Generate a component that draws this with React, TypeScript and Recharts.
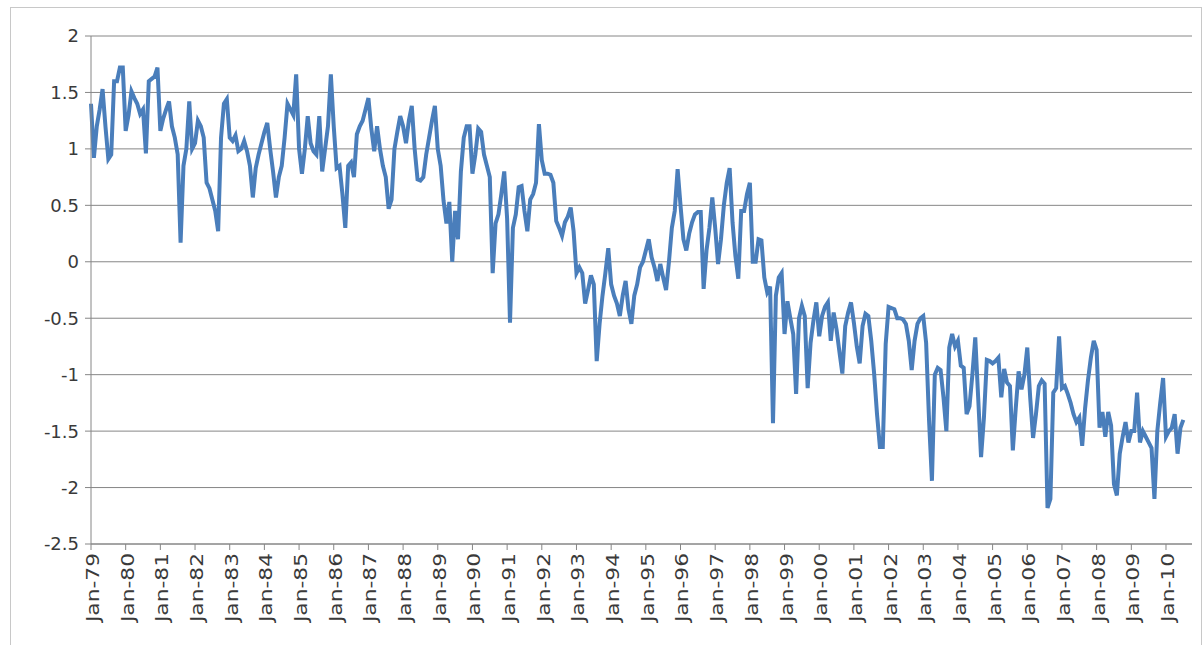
import React from 'react';
import { LineChart, Line, XAxis, YAxis, CartesianGrid } from 'recharts';

// monthly values, Jan-79 .. Jul-10 (one row per year)
const values: number[] = [
  1.4, 0.92, 1.2, 1.35, 1.53, 1.2, 0.91, 0.95, 1.6, 1.6, 1.72, 1.72,
  1.16, 1.3, 1.51, 1.45, 1.4, 1.31, 1.35, 0.96, 1.6, 1.62, 1.64, 1.72,
  1.16, 1.27, 1.35, 1.42, 1.2, 1.1, 0.95, 0.17, 0.85, 1.0, 1.42, 1.0,
  1.05, 1.25, 1.2, 1.1, 0.7, 0.65, 0.55, 0.45, 0.27, 1.1, 1.4, 1.44,
  1.1, 1.07, 1.12, 0.98, 1.0, 1.07, 0.98, 0.85, 0.57, 0.83, 0.95, 1.05,
  1.15, 1.23, 1.0, 0.8, 0.57, 0.75, 0.85, 1.1, 1.4, 1.35, 1.3, 1.66,
  1.0, 0.78, 1.0, 1.29, 1.05, 0.98, 0.95, 1.29, 0.8, 1.0, 1.2, 1.66,
  1.2, 0.83, 0.85, 0.6, 0.3, 0.85, 0.88, 0.75, 1.13, 1.2, 1.25, 1.35,
  1.45, 1.18, 0.98, 1.2, 1.0, 0.85, 0.75, 0.47, 0.55, 1.0, 1.15, 1.29,
  1.2, 1.05, 1.25, 1.38, 1.0, 0.73, 0.72, 0.75, 0.95, 1.1, 1.25, 1.38,
  1.0, 0.85, 0.54, 0.34, 0.53, 0.0, 0.45, 0.2, 0.8, 1.1, 1.2, 1.2,
  0.78, 0.95, 1.18, 1.15, 0.95, 0.85, 0.75, -0.1, 0.34, 0.42, 0.6, 0.8,
  0.38, -0.54, 0.3, 0.42, 0.66, 0.67, 0.45, 0.27, 0.55, 0.6, 0.7, 1.22,
  0.9, 0.78, 0.78, 0.77, 0.7, 0.36, 0.3, 0.23, 0.35, 0.4, 0.48, 0.27,
  -0.1, -0.05, -0.1, -0.37, -0.25, -0.12, -0.2, -0.88, -0.55, -0.3, -0.1, 0.12,
  -0.2, -0.3, -0.37, -0.48, -0.3, -0.17, -0.42, -0.55, -0.3, -0.2, -0.05, 0.0,
  0.1, 0.2, 0.04, -0.05, -0.17, -0.02, -0.14, -0.25, 0.0, 0.3, 0.45, 0.82,
  0.5, 0.2, 0.1, 0.25, 0.35, 0.42, 0.44, 0.44, -0.24, 0.1, 0.3, 0.57,
  0.3, -0.02, 0.2, 0.5, 0.7, 0.83, 0.35, 0.05, -0.15, 0.45, 0.45, 0.6,
  0.7, 0.0, 0.0, 0.2, 0.19, -0.14, -0.27, -0.22, -1.43, -0.3, -0.14, -0.1,
  -0.64, -0.35, -0.5, -0.64, -1.17, -0.5, -0.39, -0.48, -1.12, -0.72, -0.52, -0.36,
  -0.66, -0.48, -0.4, -0.36, -0.7, -0.45, -0.6, -0.8, -0.99, -0.57, -0.45, -0.36,
  -0.54, -0.75, -0.9, -0.57, -0.46, -0.48, -0.7, -0.99, -1.35, -1.64, -1.64, -0.73,
  -0.4, -0.41, -0.42, -0.5, -0.5, -0.51, -0.55, -0.7, -0.96, -0.7, -0.55, -0.5,
  -0.48, -0.72, -1.4, -1.94, -1.0, -0.94, -0.96, -1.2, -1.5, -0.76, -0.64, -0.75,
  -0.7, -0.92, -0.94, -1.35, -1.28, -1.0, -0.67, -1.2, -1.73, -1.38, -0.87, -0.88,
  -0.9, -0.88, -0.85, -1.2, -0.95, -1.07, -1.1, -1.67, -1.3, -0.97, -1.13, -1.0,
  -0.76, -1.2, -1.56, -1.35, -1.1, -1.05, -1.08, -2.18, -2.1, -1.16, -1.12, -0.66,
  -1.12, -1.1, -1.17, -1.25, -1.35, -1.42, -1.38, -1.63, -1.3, -1.05, -0.85, -0.7,
  -0.78, -1.47, -1.33, -1.55, -1.33, -1.45, -1.97, -2.07, -1.7, -1.55, -1.42, -1.6,
  -1.5, -1.5, -1.16, -1.6, -1.5, -1.55, -1.6, -1.65, -2.1, -1.5, -1.25, -1.03,
  -1.55, -1.5, -1.47, -1.35, -1.7, -1.47, -1.4,
];

const tickLabels = [
  'Jan-79', 'Jan-80', 'Jan-81', 'Jan-82', 'Jan-83', 'Jan-84', 'Jan-85', 'Jan-86',
  'Jan-87', 'Jan-88', 'Jan-89', 'Jan-90', 'Jan-91', 'Jan-92', 'Jan-93', 'Jan-94',
  'Jan-95', 'Jan-96', 'Jan-97', 'Jan-98', 'Jan-99', 'Jan-00', 'Jan-01', 'Jan-02',
  'Jan-03', 'Jan-04', 'Jan-05', 'Jan-06', 'Jan-07', 'Jan-08', 'Jan-09', 'Jan-10',
];

const yTicks = [-2.5, -2, -1.5, -1, -0.5, 0, 0.5, 1, 1.5, 2];

const data = values.map((v, i) => ({ month: i, value: v }));
const xTicks = tickLabels.map((_, i) => i * 12);

const textColor = '#3a3a3a';
const gridColor = '#868686';

// rotated labels, stretched a little along the text like the pasted Excel picture
const XTick = (props: any) => {
  const { x, y, payload } = props;
  const label = tickLabels[Math.round(payload.value / 12)];
  return (
    <g transform={`translate(${x + 2},${y})`}>
      <text transform="rotate(-90) scale(1.28,1)" x={0} y={0} dy="0.35em" textAnchor="end" fill={textColor} fontSize={17}>
        {label}
      </text>
    </g>
  );
};

export default function App() {
  return (
    <div
      style={{
        position: 'absolute',
        left: 10,
        top: 7,
        width: 1190,
        height: 650,
        border: '1px solid #c8c8c8',
        background: '#fff',
        fontFamily: '"DejaVu Sans", sans-serif',
      }}
    >
      <LineChart width={1190} height={637} data={data} margin={{ top: 28, right: 9, bottom: 0, left: 0 }}>
        <CartesianGrid vertical={false} stroke={gridColor} strokeWidth={1} />
        <XAxis
          dataKey="month"
          type="number"
          domain={[0, 381]}
          ticks={xTicks}
          interval={0}
          height={101}
          stroke={gridColor}
          tickSize={6}
          tickMargin={3}
          tick={<XTick />}
        />
        <YAxis
          type="number"
          domain={[-2.5, 2]}
          ticks={yTicks}
          interval={0}
          width={80}
          stroke={gridColor}
          tickSize={6}
          tickMargin={6}
          tick={{ fill: textColor, fontSize: 18 }}
        />
        <Line
          type="linear"
          dataKey="value"
          stroke="#4a7ebb"
          strokeWidth={4}
          dot={false}
          isAnimationActive={false}
        />
      </LineChart>
    </div>
  );
}
